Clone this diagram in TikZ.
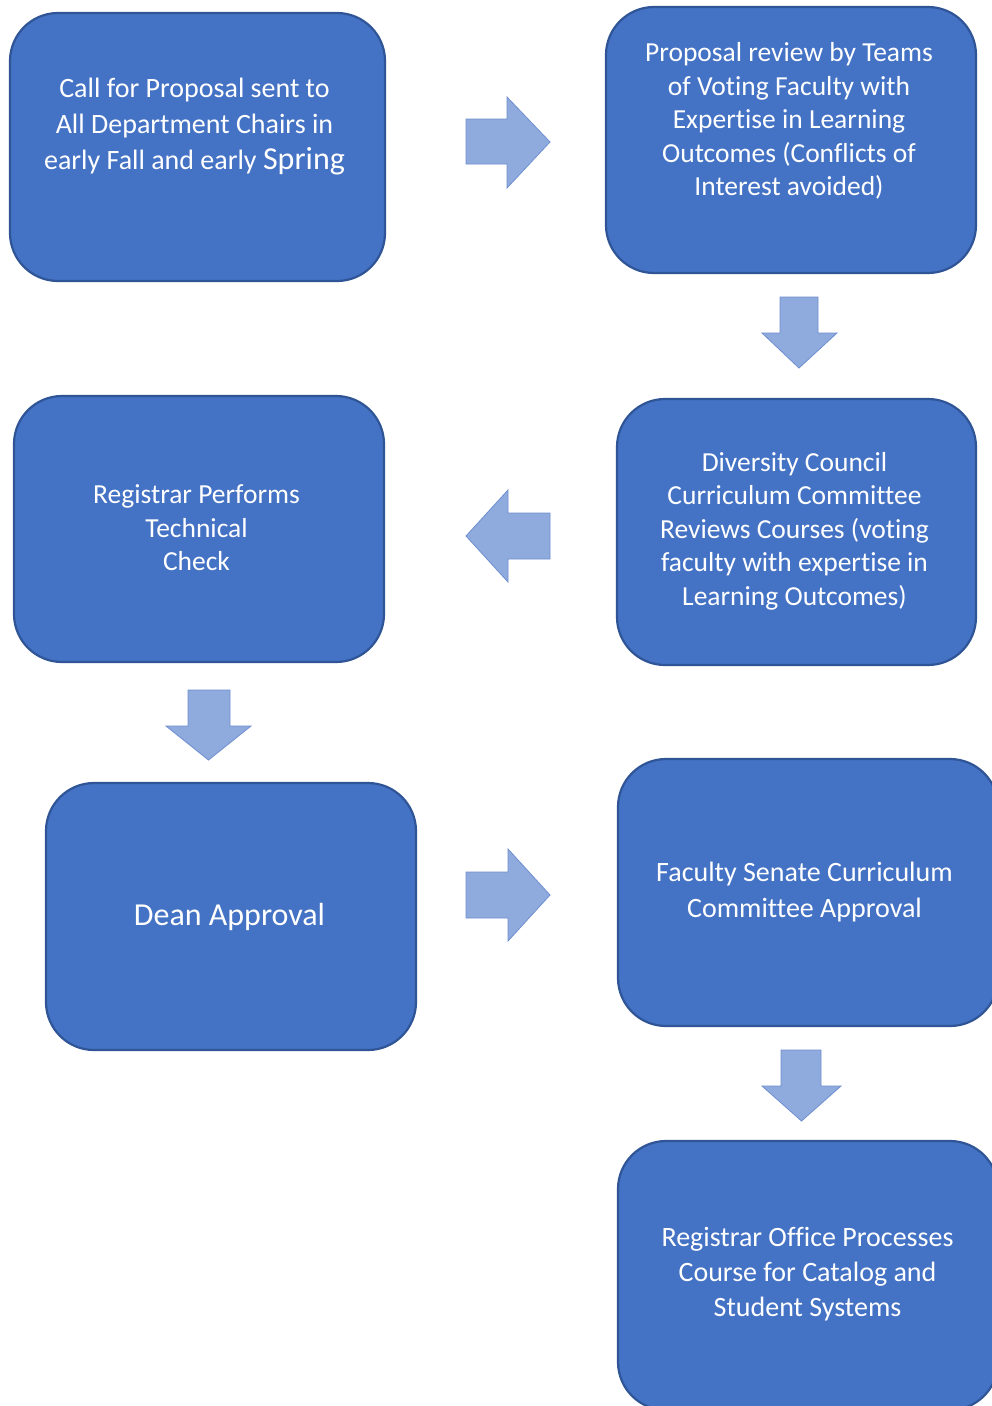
\documentclass[tikz,border=0pt]{standalone}
\usepackage{fontspec}
\setmainfont{Carlito}[RawFeature={-liga;-dlig;-calt;-clig}]
\definecolor{boxfill}{HTML}{4472C4}
\definecolor{boxline}{HTML}{2F5597}
\definecolor{arrfill}{HTML}{8FAADC}
\definecolor{arrline}{HTML}{6F8FD0}
\begin{document}
\begin{tikzpicture}[x=1pt,y=-1pt,
  stepbox/.style={draw=boxline, line width=2.2pt, fill=boxfill, rounded corners=48pt, inner sep=0pt},
  txt/.style={text=white, align=center, inner sep=0pt, font=\fontsize{27.5}{33.5}\selectfont},
  blockarrow/.style={fill=arrfill, draw=arrline, line width=0.8pt, line join=miter}]
\useasboundingbox (0,0) rectangle (992,1406);
\clip (0,0) rectangle (992,1406);
\fill[white] (0,0) rectangle (992,1406);

% boxes
\node (b1) [stepbox, minimum width=375pt, minimum height=268pt] at (197.5,147) {};
\node (b2) [stepbox, minimum width=370pt, minimum height=266pt] at (791,140) {};
\node (b3) [stepbox, minimum width=370pt, minimum height=266pt] at (199,529) {};
\node (b4) [stepbox, minimum width=359pt, minimum height=266pt] at (796.5,532) {};
\node (b5) [stepbox, minimum width=370pt, minimum height=267pt] at (231,916.5) {};
\node (b6) [stepbox, minimum width=380pt, minimum height=267pt] at (808,892.5) {};
\node (b7) [stepbox, minimum width=380pt, minimum height=269pt] at (808,1275.5) {};

% texts
\node (t1) [txt, font=\fontsize{28}{36}\selectfont] at (194.5,127) {Call for Proposal sent to\\All Department Chairs in\\early Fall and early {\fontsize{32}{36}\selectfont Spring}};
\node (t2) [txt] at (789,121) {Proposal review by Teams\\of Voting Faculty with\\Expertise in Learning\\Outcomes (Conflicts of\\Interest avoided)};
\node (t3) [txt] at (196.5,528) {Registrar Performs\\Technical\\Check};
\node (t4) [txt] at (794.5,531) {Diversity Council\\Curriculum Committee\\Reviews Courses (voting\\faculty with expertise in\\Learning Outcomes)};
\node (t5) [txt, font=\fontsize{32}{36}\selectfont] at (229.5,917) {Dean Approval};
\node (t6) [txt, font=\fontsize{28}{36}\selectfont] at (804.5,892) {Faculty Senate Curriculum\\Committee Approval};
\node (t7) [txt, font=\fontsize{28}{35}\selectfont] at (807.5,1274) {Registrar Office Processes\\Course for Catalog and\\Student Systems};

% block arrows
\draw[blockarrow] (466,119) -- (507,119) -- (507,97) -- (550,142) -- (507,188) -- (507,164) -- (466,164) -- cycle;
\draw[blockarrow] (780,297) -- (818,297) -- (818,333) -- (837,333) -- (799,368) -- (762,333) -- (780,333) -- cycle;
\draw[blockarrow] (550,513) -- (508,513) -- (508,490) -- (466,536) -- (508,582) -- (508,559) -- (550,559) -- cycle;
\draw[blockarrow] (188,690) -- (230,690) -- (230,726) -- (251,726) -- (208.5,760) -- (166,726) -- (188,726) -- cycle;
\draw[blockarrow] (466,872) -- (508,872) -- (508,849) -- (550,895) -- (508,941) -- (508,918) -- (466,918) -- cycle;
\draw[blockarrow] (781,1050) -- (821,1050) -- (821,1086) -- (841,1086) -- (801.5,1121) -- (762,1086) -- (781,1086) -- cycle;
\end{tikzpicture}
\end{document}
